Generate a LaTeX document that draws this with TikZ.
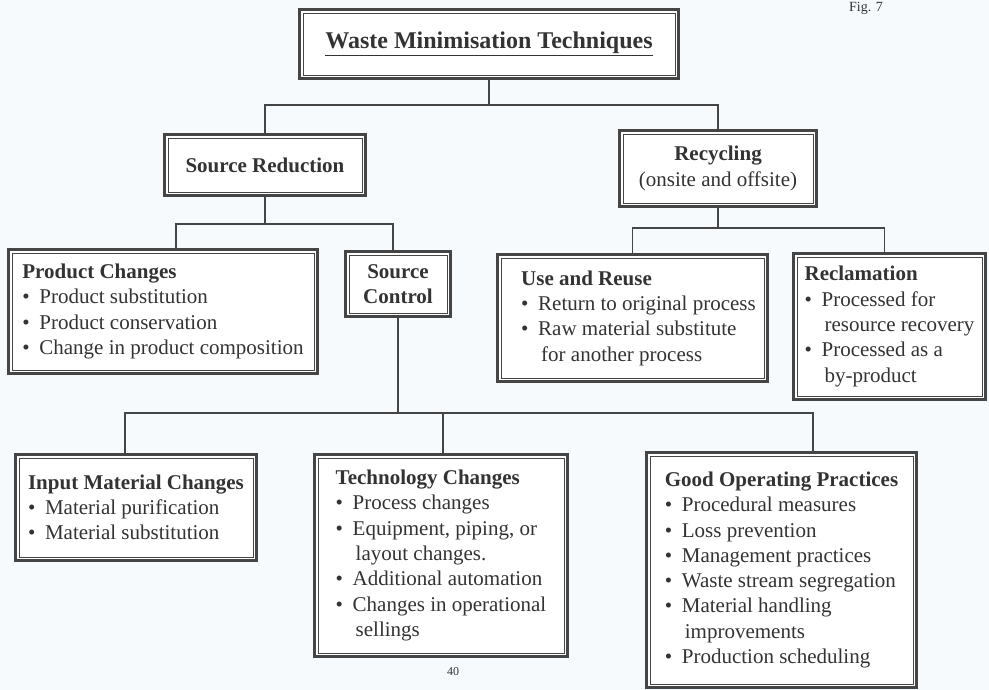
\documentclass[tikz,border=0pt]{standalone}
\usepackage{fontspec}
\setmainfont{Liberation Serif}
\definecolor{ink}{HTML}{333333}
\definecolor{boxc}{HTML}{454545}
\definecolor{bg}{HTML}{F6FAFC}
\newcommand\bul{\makebox[17pt][l]{\textbullet}}
\newcommand\cnt{\hspace*{20pt}}
\newcommand\ind{\hspace*{12pt}}
\begin{document}
\begin{tikzpicture}[x=1pt,y=-1pt,
  frame/.style={draw=boxc, line width=3pt, fill=white, inner sep=0pt, text=ink,
    font=\fontsize{21}{25.3}\selectfont, align=left,
    path picture={\draw[boxc, line width=0.7pt]
      ([shift={(3.6pt,3.6pt)}]path picture bounding box.south west) rectangle
      ([shift={(-3.6pt,-3.6pt)}]path picture bounding box.north east);}},
  conn/.style={draw=boxc, line width=1.1pt}]
\fill[bg] (0,0) rectangle (989,690);
\useasboundingbox (0,0) rectangle (989,690);

\node[anchor=base, text=ink, font=\fontsize{14}{16}\selectfont, inner sep=1pt] (fig) at (866,12) {Fig. 7};

\node[frame, minimum width=379pt, minimum height=69pt, align=center] (title) at (489,44)
  {\fontsize{24}{28}\selectfont\bfseries\underline{Waste Minimisation Techniques}};

\node[frame, minimum width=201pt, minimum height=61pt, align=center] (srcred) at (265,165)
  {\textbf{Source Reduction}};

\node[frame, minimum width=197pt, minimum height=76pt, align=center] (recyc) at (718,168.5)
  {\textbf{Recycling}\\(onsite and offsite)};

\node[frame, minimum width=309pt, minimum height=124pt] (prod) at (163,311.5)
  {\textbf{Product Changes}\\
   \bul Product substitution\\
   \bul Product conservation\\
   \bul Change in product composition};

\node[frame, minimum width=105pt, minimum height=65pt, align=center] (srcctl) at (398,284)
  {\textbf{Source}\\\textbf{Control}};

\node[frame, minimum width=270pt, minimum height=127pt] (usereuse) at (632.5,318)
  {\ind\textbf{Use and Reuse}\\
   \ind\bul Return to original process\\
   \ind\bul Raw material substitute\\
   \ind\cnt for another process};

\node[frame, minimum width=192pt, minimum height=146pt] (reclam) at (889.5,326.5)
  {\textbf{Reclamation}\\
   \bul Processed for\\
   \cnt resource recovery\\
   \bul Processed as a\\
   \cnt by-product};

\node[frame, minimum width=241pt, minimum height=106pt] (input) at (136,507.5)
  {\textbf{Input Material Changes}\\
   \bul Material purification\\
   \bul Material substitution};

\node[frame, minimum width=253pt, minimum height=202pt] (tech) at (441,555.5)
  {\textbf{Technology Changes}\\
   \bul Process changes\\
   \bul Equipment, piping, or\\
   \cnt layout changes.\\
   \bul Additional automation\\
   \bul Changes in operational\\
   \cnt sellings};

\node[frame, minimum width=270pt, minimum height=235pt] (good) at (781.5,570)
  {\textbf{Good Operating Practices}\\
   \bul Procedural measures\\
   \bul Loss prevention\\
   \bul Management practices\\
   \bul Waste stream segregation\\
   \bul Material handling\\
   \cnt improvements\\
   \bul Production scheduling};

\node[text=ink, font=\fontsize{12}{14}\selectfont] (page) at (453,672) {40};

% connectors
\coordinate (j0) at (489,105);
\coordinate (j1) at (265,224);
\coordinate (j2) at (398,413);
\coordinate (j3) at (718,228);
\draw[conn] (title.south) -- (j0);
\draw[conn] (j0) -| (srcred.north);
\draw[conn] (j0) -| (recyc.north);
\draw[conn] (srcred.south) -- (j1);
\draw[conn] (j1) -| ([xshift=13pt]prod.north);
\draw[conn] (j1) -| ([xshift=-5pt]srcctl.north);
\draw[conn] (srcctl.south) -- (j2);
\draw[conn] (j2) -| ([xshift=-11pt]input.north);
\draw[conn] (j2) -| ([xshift=2pt]tech.north);
\draw[conn] (j2) -| ([xshift=31.5pt]good.north);
\draw[conn] (recyc.south) -- (j3);
\draw[conn] (j3) -| (usereuse.north);
\draw[conn] (j3) -| ([xshift=-5pt]reclam.north);
\end{tikzpicture}
\end{document}
